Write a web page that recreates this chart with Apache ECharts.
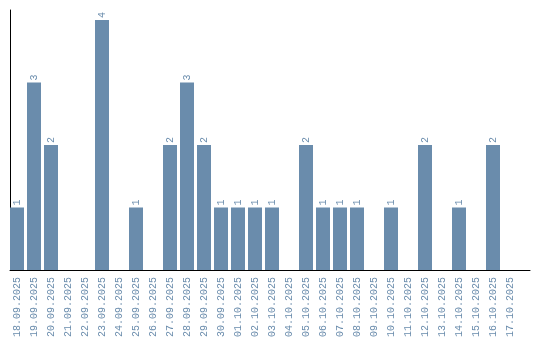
<!DOCTYPE html>
<html>
<head>
<meta charset="utf-8">
<script src="https://cdn.jsdelivr.net/npm/echarts@6/dist/echarts.min.js"></script>
<style>html,body{margin:0;padding:0;background:#fff}#c{width:540px;height:340px}</style>
</head>
<body>
<div id="c"></div>
<script>
const categories = ["18.09.2025","19.09.2025","20.09.2025","21.09.2025","22.09.2025","23.09.2025","24.09.2025","25.09.2025","26.09.2025","27.09.2025","28.09.2025","29.09.2025","30.09.2025","01.10.2025","02.10.2025","03.10.2025","04.10.2025","05.10.2025","06.10.2025","07.10.2025","08.10.2025","09.10.2025","10.10.2025","11.10.2025","12.10.2025","13.10.2025","14.10.2025","15.10.2025","16.10.2025","17.10.2025"];
const counts = [1,3,2,0,0,4,0,1,0,2,3,2,1,1,1,1,0,2,1,1,1,0,1,0,2,0,1,0,2,0];

const barColor = '#6a8cac';
const textColor = '#6a8cac';
const font = 'Liberation Mono';

const chart = echarts.init(document.getElementById('c'), null, {renderer: 'canvas'});
chart.setOption({
  animation: false,
  grid: [
    {left: 8.5, width: 510, top: 10, bottom: 70},
    {left: 10, right: 10, top: 10, bottom: 70}
  ],
  xAxis: [
    {
      type: 'category', gridIndex: 0, data: categories,
      axisLine: {show: false}, axisTick: {show: false},
      axisLabel: {rotate: 90, interval: 0, margin: 7, color: textColor, fontFamily: font, fontSize: 10}
    },
    {
      type: 'value', gridIndex: 1, min: 0, max: 1,
      axisLine: {show: true, onZero: false, lineStyle: {color: '#000', width: 1}},
      axisTick: {show: false}, axisLabel: {show: false}, splitLine: {show: false}
    }
  ],
  yAxis: [
    {
      type: 'value', gridIndex: 0, min: 0, max: 4.16,
      axisLine: {show: false}, axisTick: {show: false}, axisLabel: {show: false}, splitLine: {show: false}
    },
    {
      type: 'value', gridIndex: 1, min: 0, max: 1,
      axisLine: {show: true, onZero: false, lineStyle: {color: '#000', width: 1}},
      axisTick: {show: false}, axisLabel: {show: false}, splitLine: {show: false}
    }
  ],
  series: [{
    type: 'bar', xAxisIndex: 0, yAxisIndex: 0,
    data: counts.map(v => v === 0 ? null : v),
    barWidth: 14,
    itemStyle: {color: barColor},
    label: {
      show: true, position: 'top', rotate: 90, distance: 2,
      align: 'left', verticalAlign: 'middle',
      color: textColor, fontFamily: font, fontSize: 10
    }
  }]
});
</script>
</body>
</html>
